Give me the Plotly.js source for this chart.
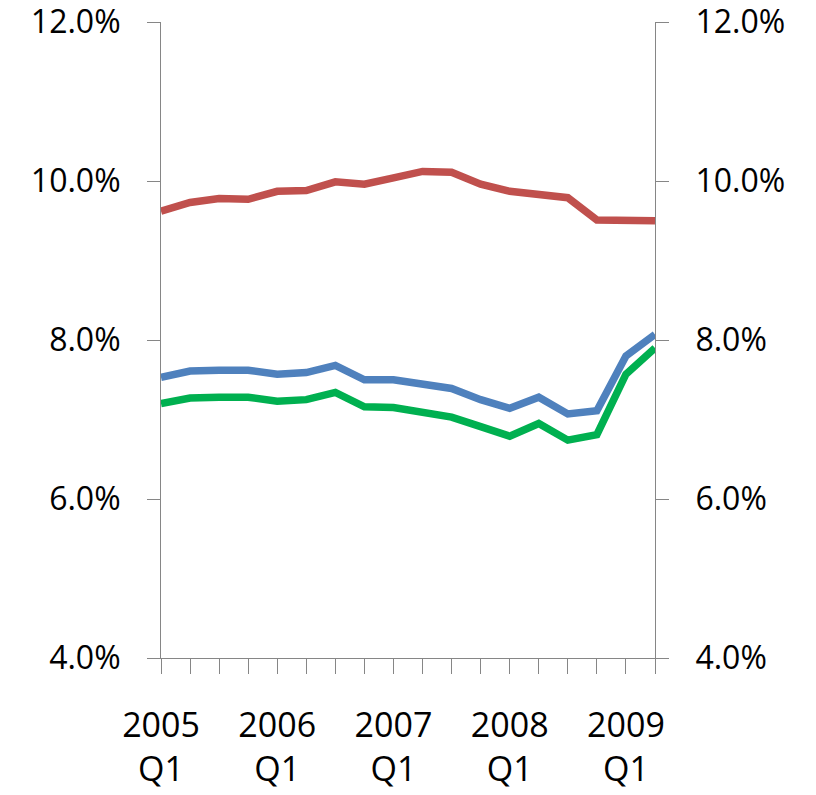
<!DOCTYPE html>
<html>
<head>
<meta charset="utf-8">
<script src="https://cdn.plot.ly/plotly-3.0.1.min.js"></script>
<style>
  html, body { margin: 0; padding: 0; background: #fff; }
  #chart { width: 816px; height: 795px; }
</style>
</head>
<body>
<div id="chart"></div>
<script>
// Quarterly rates, 2005 Q1 – 2009 Q2 (percent)
const quarters = [
  '2005 Q1', '2005 Q2', '2005 Q3', '2005 Q4',
  '2006 Q1', '2006 Q2', '2006 Q3', '2006 Q4',
  '2007 Q1', '2007 Q2', '2007 Q3', '2007 Q4',
  '2008 Q1', '2008 Q2', '2008 Q3', '2008 Q4',
  '2009 Q1', '2009 Q2'
];
const redSeries   = [9.62, 9.73, 9.78, 9.77, 9.87, 9.88, 9.99, 9.96, 10.04, 10.12, 10.11, 9.96, 9.87, 9.84, 9.79, 9.51, 9.51, 9.50];
const blueSeries  = [7.53, 7.61, 7.62, 7.62, 7.57, 7.59, 7.68, 7.50, 7.50, 7.45, 7.39, 7.25, 7.14, 7.28, 7.07, 7.11, 7.80, 8.07];
const greenSeries = [7.20, 7.27, 7.28, 7.28, 7.23, 7.25, 7.34, 7.16, 7.15, 7.09, 7.03, 6.91, 6.79, 6.95, 6.74, 6.81, 7.57, 7.90];
const yTicks = [4, 6, 8, 10, 12];

const xIdx = quarters.map((_, i) => i);
// Label only the first quarter of each year, as "year<br>Q1"
const xTickText = quarters.map(q => {
  const [yr, qq] = q.split(' ');
  return qq === 'Q1' ? yr + '<br>' + qq : '';
});
const yTickText = yTicks.map(v => v.toFixed(1) + '%');

const lineWidth = 7.5;
function series(values, color) {
  return {
    x: xIdx, y: values, type: 'scatter', mode: 'lines',
    line: { color: color, width: lineWidth },
    cliponaxis: false, hoverinfo: 'skip'
  };
}

const traces = [
  series(redSeries, '#C0504D'),
  series(blueSeries, '#4F81BD'),
  series(greenSeries, '#00B050'),
  // invisible copy on the secondary axis so the right-hand scale is drawn
  Object.assign(series(redSeries, 'rgba(0,0,0,0)'), { yaxis: 'y2', line: { width: 0, color: 'rgba(0,0,0,0)' } })
];

const axisColor = '#868686';
const fontFamily = '"Open Sans", sans-serif';
const xTickFont = { family: fontFamily, size: 34, color: '#000' };
const yTickFont = { family: fontFamily, size: 32, color: '#000' };

const yCommon = {
  range: [4, 12],
  tickmode: 'array', tickvals: yTicks, ticktext: yTickText,
  ticks: 'outside', ticklen: 13, tickwidth: 1, tickcolor: axisColor,
  showline: true, linecolor: axisColor, linewidth: 1,
  showgrid: false, zeroline: false,
  tickfont: yTickFont, ticklabelstandoff: 20, ticklabeloverflow: 'allow'
};

const layout = {
  width: 816, height: 795,
  margin: { l: 161, r: 161, t: 22, b: 137 },
  paper_bgcolor: '#fff', plot_bgcolor: '#fff',
  showlegend: false,
  xaxis: {
    range: [0, quarters.length - 1],
    tickmode: 'array', tickvals: xIdx, ticktext: xTickText,
    ticks: 'outside', ticklen: 15, tickwidth: 1, tickcolor: axisColor,
    showline: true, linecolor: axisColor, linewidth: 1,
    showgrid: false, zeroline: false,
    tickfont: xTickFont, tickangle: 0, ticklabelstandoff: 22,
    ticklabeloverflow: 'allow'
  },
  yaxis: Object.assign({ side: 'left' }, yCommon),
  yaxis2: Object.assign({ side: 'right', overlaying: 'y' }, yCommon)
};

Plotly.newPlot('chart', traces, layout, { staticPlot: true, displayModeBar: false });
</script>
</body>
</html>
